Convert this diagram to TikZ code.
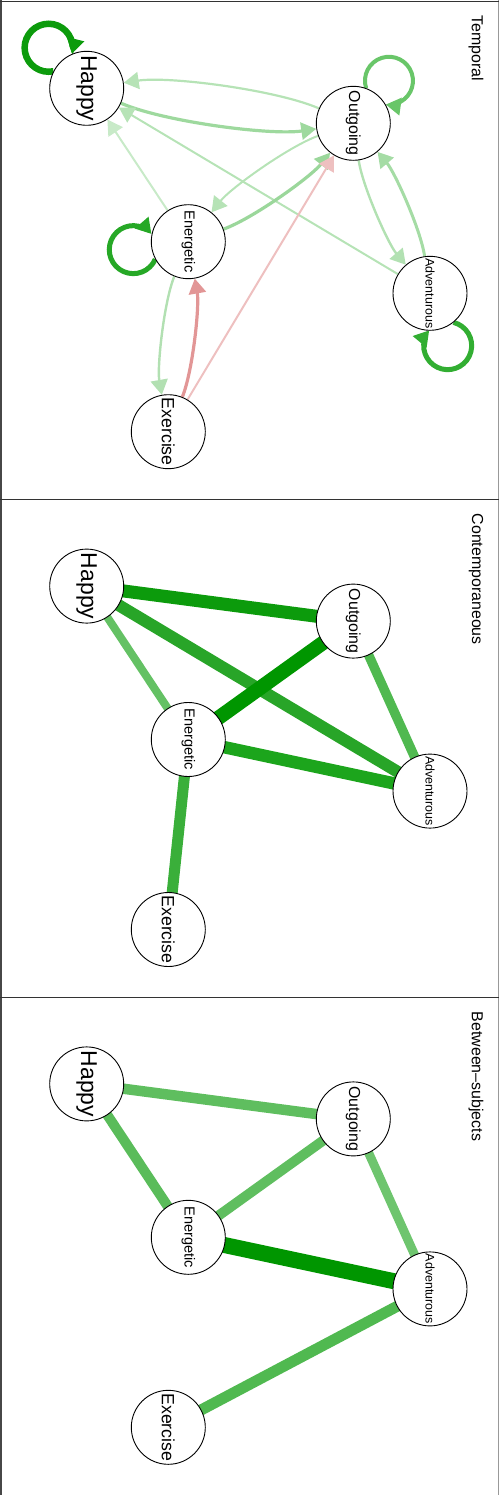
\documentclass[tikz,border=0pt]{standalone}
\usepackage{fontspec}
\usepackage{graphicx}
\setmainfont{Liberation Sans}
\usetikzlibrary{arrows.meta,backgrounds}

% edge colours
\definecolor{tHH}{RGB}{12,155,12}
\definecolor{tEE}{RGB}{38,168,38}
\definecolor{tAA}{RGB}{50,174,50}
\definecolor{tOO}{RGB}{105,198,105}
\definecolor{tHO}{RGB}{158,217,158}
\definecolor{tEO}{RGB}{155,215,155}
\definecolor{tAO}{RGB}{165,220,165}
\definecolor{tOA}{RGB}{178,225,178}
\definecolor{tOH}{RGB}{182,227,182}
\definecolor{tOE}{RGB}{182,227,182}
\definecolor{tAH}{RGB}{182,227,182}
\definecolor{tEH}{RGB}{200,234,200}
\definecolor{tEX}{RGB}{178,224,178}
\definecolor{tXE}{RGB}{226,150,150}
\definecolor{tXO}{RGB}{238,192,192}

\definecolor{cHO}{RGB}{12,155,12}
\definecolor{cHA}{RGB}{40,165,40}
\definecolor{cHE}{RGB}{100,193,100}
\definecolor{cEO}{RGB}{0,150,0}
\definecolor{cEA}{RGB}{28,165,28}
\definecolor{cOA}{RGB}{80,185,80}
\definecolor{cEX}{RGB}{58,175,58}

\definecolor{bHO}{RGB}{95,190,95}
\definecolor{bHE}{RGB}{90,188,90}
\definecolor{bEO}{RGB}{95,190,95}
\definecolor{bEA}{RGB}{0,150,0}
\definecolor{bOA}{RGB}{110,197,110}
\definecolor{bAX}{RGB}{80,185,80}

\tikzset{
  var/.style={circle, draw=black, line width=0.9bp, fill=white,
    minimum size=74bp, inner sep=0pt},
  paneltitle/.style={anchor=north, inner sep=0pt,
    font=\fontsize{16}{16}\selectfont},
  arr/.style={-{Triangle[length=15bp,width=17bp]}},
  pair/.style={arr, bend right=16, looseness=0.6},
  frame/.style={line width=1.2bp, black!80}
}

% the five variables of one panel: #1 = name prefix, #2 = vertical offset
\newcommand\variables[2]{%
  \node[var] (#1H) at (86.7,-88.3-#2)
    {\rotatebox{-90}{\fontsize{23}{23}\selectfont Happy}};
  \node[var] (#1O) at (353.3,-123.3-#2)
    {\rotatebox{-90}{\fontsize{16}{16}\selectfont Outgoing}};
  \node[var] (#1E) at (188.3,-241.7-#2)
    {\rotatebox{-90}{\fontsize{14.6}{14.6}\selectfont Energetic}};
  \node[var] (#1A) at (430,-293.3-#2)
    {\rotatebox{-90}{\fontsize{12.5}{12.5}\selectfont Adventurous}};
  \node[var] (#1X) at (168.3,-431.7-#2)
    {\rotatebox{-90}{\fontsize{17.8}{17.8}\selectfont Exercise}};
}

% self-loop leaving node #1 in direction #2 (clockwise)
\newcommand\selfloop[3]{%
  \draw[arr, #3] (#1.{#2+20.3})
    arc[start angle={#2+147.8}, delta angle=-295.6, radius=24bp];
}

\begin{document}
\begin{tikzpicture}[x=1bp,y=1bp]
\useasboundingbox (0,0) rectangle (499,-1495);

% panel frames
\draw[line width=1.3bp, black!72] (1,0) -- (1,-1495);
\draw[line width=1bp, black!40] (498,0) -- (498,-1495);
\draw[frame] (0,-1.2) -- (499,-1.2);
\draw[frame] (0,-499.5) -- (499,-499.5);
\draw[frame] (0,-997.5) -- (499,-997.5);

% titles
\node[paneltitle] (t1) at (476,-15) {\rotatebox{-90}{Temporal}};
\node[paneltitle] (t2) at (476,-513.5) {\rotatebox{-90}{Contemporaneous}};
\node[paneltitle] (t3) at (476,-1011.5) {\rotatebox{-90}{Between–subjects}};

% nodes of the three networks
\variables{a}{0}
\variables{b}{497.8}
\variables{c}{995.6}

\begin{pgfonlayer}{background}
  % temporal network (directed)
  \selfloop{aH}{133.5}{tHH, line width=6.5bp}
  \selfloop{aE}{188.5}{tEE, line width=5bp}
  \selfloop{aO}{50}{tOO, line width=4bp}
  \selfloop{aA}{-72}{tAA, line width=5bp}
  \draw[pair, line width=2.2bp, tOH] (aO) to (aH);
  \draw[pair, line width=3.2bp, tHO] (aH) to (aO);
  \draw[arr, line width=2bp, tEH] (aE) -- (aH);
  \draw[arr, line width=2bp, tAH] (aA) -- (aH);
  \draw[pair, line width=2bp, tOE] (aO) to (aE);
  \draw[pair, line width=3.2bp, tEO] (aE) to (aO);
  \draw[arr, line width=2bp, tXO] (aX) -- (aO);
  \draw[pair, line width=3.2bp, tXE] (aX) to (aE);
  \draw[pair, line width=2.4bp, tEX] (aE) to (aX);
  \draw[pair, line width=2.4bp, tOA] (aO) to (aA);
  \draw[pair, line width=3bp, tAO] (aA) to (aO);

  % contemporaneous network
  \draw[line width=13bp, cHO] (bH.center) -- (bO.center);
  \draw[line width=12bp, cHA] (bH.center) -- (bA.center);
  \draw[line width=8bp, cHE] (bH.center) -- (bE.center);
  \draw[line width=14.5bp, cEO] (bE.center) -- (bO.center);
  \draw[line width=12.5bp, cEA] (bE.center) -- (bA.center);
  \draw[line width=9.5bp, cOA] (bO.center) -- (bA.center);
  \draw[line width=11bp, cEX] (bE.center) -- (bX.center);

  % between-subjects network
  \draw[line width=10.5bp, bHO] (cH.center) -- (cO.center);
  \draw[line width=10bp, bHE] (cH.center) -- (cE.center);
  \draw[line width=10bp, bEO] (cE.center) -- (cO.center);
  \draw[line width=16bp, bEA] (cE.center) -- (cA.center);
  \draw[line width=9bp, bOA] (cO.center) -- (cA.center);
  \draw[line width=11bp, bAX] (cA.center) -- (cX.center);
\end{pgfonlayer}
\end{tikzpicture}
\end{document}
